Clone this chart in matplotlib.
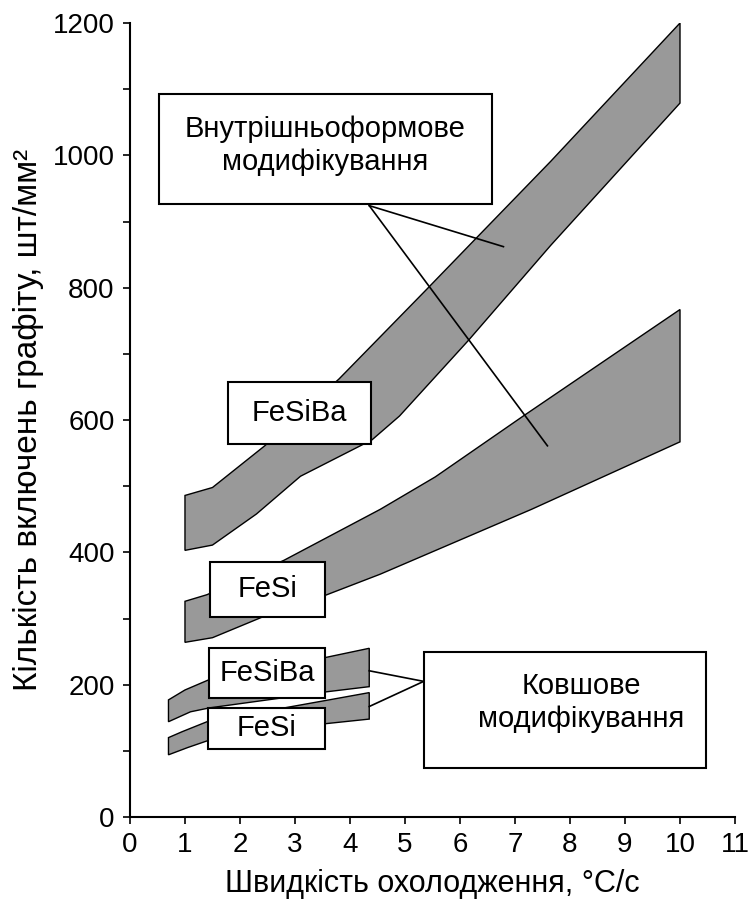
import numpy as np
import matplotlib
matplotlib.use("Agg")
import matplotlib.pyplot as plt
from matplotlib.patches import Rectangle

plt.rcParams['font.family'] = ['Liberation Sans', 'DejaVu Sans']

# band outlines (x = cooling rate, y = graphite count)
# in-mold FeSiBa
mold_ba_top_x = [1.0, 1.5, 2.45, 3.8, 5.4, 6.25, 7.65, 10.0]
mold_ba_top_y = [486, 498, 561, 662, 798, 871, 991, 1200]
mold_ba_bot_x = [1.0, 1.5, 2.3, 3.1, 4.4, 4.9, 6.15, 7.65, 10.0]
mold_ba_bot_y = [403, 411, 458, 515, 570, 606, 720, 864, 1079]

# in-mold FeSi
mold_si_top_x = [1.0, 1.4, 2.8, 4.55, 5.55, 7.15, 10.0]
mold_si_top_y = [326, 336, 388, 465, 514, 606, 767]
mold_si_bot_x = [1.0, 1.5, 2.4, 3.55, 4.55, 7.3, 10.0]
mold_si_bot_y = [264, 271, 302, 335, 367, 465, 567]

# ladle FeSiBa
ladle_ba_top_x = [0.7, 1.0, 1.45, 3.55, 4.35]
ladle_ba_top_y = [177, 192, 208, 241, 255]
ladle_ba_bot_x = [0.7, 1.1, 1.45, 3.55, 4.35]
ladle_ba_bot_y = [144, 159, 165, 189, 197]

# ladle FeSi
ladle_si_top_x = [0.7, 0.95, 1.4, 3.55, 4.35]
ladle_si_top_y = [120, 129, 144, 176, 188]
ladle_si_bot_x = [0.7, 1.05, 1.4, 3.55, 4.35]
ladle_si_bot_y = [94, 105, 115, 141, 148]

x_ticks = list(range(0, 12))
y_ticks = list(range(0, 1201, 200))

fig = plt.figure(figsize=(7.5, 8.99), dpi=100)
ax = fig.add_axes([0.1733, 0.0912, 0.98 - 0.1733, 0.9744 - 0.0912])

def band(tx, ty, bx, by):
    xs = np.concatenate([tx, bx[::-1]])
    ys = np.concatenate([ty, by[::-1]])
    ax.fill(xs, ys, facecolor='#999999', edgecolor='black', lw=1.0, zorder=2)

band(mold_ba_top_x, mold_ba_top_y, mold_ba_bot_x, mold_ba_bot_y)
band(mold_si_top_x, mold_si_top_y, mold_si_bot_x, mold_si_bot_y)
band(ladle_ba_top_x, ladle_ba_top_y, ladle_ba_bot_x, ladle_ba_bot_y)
band(ladle_si_top_x, ladle_si_top_y, ladle_si_bot_x, ladle_si_bot_y)

# leader lines
ax.plot([4.35, 6.79], [924, 862], color='black', lw=1.2, zorder=3)
ax.plot([4.35, 7.59], [924, 561], color='black', lw=1.2, zorder=3)
ax.plot([5.34, 4.35], [205, 221], color='black', lw=1.2, zorder=3)
ax.plot([5.34, 4.35], [205, 167], color='black', lw=1.2, zorder=3)

def box(x0, x1, y0, y1, text, tx=None, ty=None):
    ax.add_patch(Rectangle((x0, y0), x1 - x0, y1 - y0, facecolor='white',
                           edgecolor='black', lw=1.5, zorder=4))
    tx = (x0 + x1) / 2 if tx is None else tx
    ty = (y0 + y1) / 2 if ty is None else ty
    ax.text(tx, ty, text, ha='center', va='center', fontsize=21,
            linespacing=1.2, zorder=5)

box(0.53, 6.58, 926, 1092, 'Внутрішньоформове\nмодифікування', ty=1015)
box(1.78, 4.38, 564, 658, 'FeSiBa')
box(1.45, 3.55, 303, 385, 'FeSi')
box(1.43, 3.55, 180, 256, 'FeSiBa')
box(1.41, 3.55, 103, 165, 'FeSi')
box(5.34, 10.47, 74, 250, 'Ковшове\nмодифікування', tx=8.2, ty=173)

ax.set_xlim(0, 11)
ax.set_ylim(0, 1200)
ax.set_xticks(x_ticks)
ax.set_yticks(y_ticks)
ax.set_yticks(range(100, 1200, 200), minor=True)
ax.tick_params(axis='both', which='both', direction='out', length=5,
               width=1.2, labelsize=20, pad=6)
ax.spines['top'].set_visible(False)
ax.spines['right'].set_visible(False)
ax.spines['left'].set_linewidth(1.5)
ax.spines['bottom'].set_linewidth(1.5)

ax.set_xlabel('Швидкість охолодження, °C/с', fontsize=22, labelpad=8)
ax.set_ylabel('Кількість включень графіту, шт/мм²', fontsize=24, labelpad=6)

fig.savefig('out.png', dpi=100)
